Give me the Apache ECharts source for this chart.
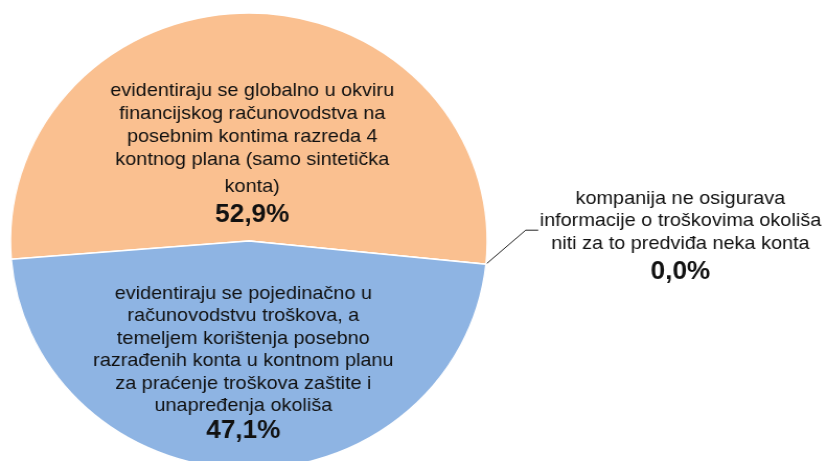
<!DOCTYPE html>
<html>
<head>
<meta charset="utf-8">
<script src="https://cdn.jsdelivr.net/npm/echarts@6/dist/echarts.min.js"></script>
<style>
  html, body { margin: 0; padding: 0; background: #ffffff; overflow: hidden; }
  #wrap { width: 827px; height: 461px; overflow: hidden; }
  /* the chart is laid out slightly narrower and stretched horizontally */
  #chart { width: 791px; height: 461px; transform: scaleX(1.0455); transform-origin: 0 0; }
</style>
</head>
<body>
<div id="wrap"><div id="chart"></div></div>
<script>
// Categories (slice order, clockwise from the left edge)
const categories = [
  'evidentiraju se globalno u okviru\nfinancijskog računovodstva na\nposebnim kontima razreda 4\nkontnog plana (samo sintetička\nkonta)',
  'kompanija ne osigurava\ninformacije o troškovima okoliša\nniti za to predviđa neka konta',
  'evidentiraju se pojedinačno u\nračunovodstvu troškova, a\ntemeljem korištenja posebno\nrazrađenih konta u kontnom planu\nza praćenje troškova zaštite i\nunapređenja okoliša'
];
// Shares in percent
const shares = [52.9, 0.0, 47.1];

const sliceColors = ['#FAC090', '#8EB4E3', '#8EB4E3'];
const FONT = '"Liberation Sans", Arial, sans-serif';
const INK = '#111111';

function pct(v) {
  return v.toFixed(1).replace('.', ',') + '%';
}
// each label: name lines, an optional style for the last name line, then the value
function richText(name, value, s) {
  const lines = name.split('\n');
  return lines.map((l, k) => '{' + (k === lines.length - 1 ? s.last : s.name) + '|' + l + '}').join('\n') +
    '\n{' + s.value + '|' + pct(value) + '}';
}

const rich = {
  a:  { fontFamily: FONT, fontSize: 19, lineHeight: 23, color: INK },
  ak: { fontFamily: FONT, fontSize: 19, lineHeight: 31, color: INK },
  av: { fontFamily: FONT, fontSize: 25, fontWeight: 'bold', lineHeight: 26, color: INK },
  b:  { fontFamily: FONT, fontSize: 19, lineHeight: 22.5, color: INK },
  bv: { fontFamily: FONT, fontSize: 25, fontWeight: 'bold', lineHeight: 28, color: INK },
  c:  { fontFamily: FONT, fontSize: 19, lineHeight: 22.5, color: INK },
  cv: { fontFamily: FONT, fontSize: 25, fontWeight: 'bold', lineHeight: 34, color: INK }
};
const labelStyles = [
  { name: 'a', last: 'ak', value: 'av' },
  { name: 'c', last: 'c', value: 'cv' },
  { name: 'b', last: 'b', value: 'bv' }
];

const pieData = categories.map((name, i) => {
  const outside = shares[i] === 0;
  return {
    name: name,
    value: shares[i],
    itemStyle: { color: sliceColors[i] },
    label: {
      show: true,
      position: outside ? 'outside' : 'inside',
      align: 'center',
      formatter: p => richText(p.name, p.value, labelStyles[i]),
      rich: rich
    },
    labelLine: {
      show: outside,
      length: 30,
      length2: 12,
      lineStyle: { color: '#222222', width: 1 }
    }
  };
});

const chart = echarts.init(document.getElementById('chart'), null, { renderer: 'canvas' });
chart.setOption({
  animation: false,
  backgroundColor: '#ffffff',
  series: [{
    type: 'pie',
    silent: true,
    center: [238, 241],
    radius: 228,
    startAngle: 184.6,
    clockwise: true,
    avoidLabelOverlap: false,
    itemStyle: { borderColor: '#ffffff', borderWidth: 1.5 },
    data: pieData,
    labelLayout: function (p) {
      if (shares[p.dataIndex] === 0 && p.labelLinePoints && p.labelLinePoints.length) {
        // leader line: up-right from the slice edge, then a short horizontal tail
        const a = p.labelLinePoints[0];
        const bend = [a[0] + 38, a[1] - 34];
        const end = [bend[0] + 12, bend[1]];
        return {
          x: end[0] + 136,
          y: bend[1] + 8,
          align: 'center',
          verticalAlign: 'middle',
          labelLinePoints: [a, bend, end]
        };
      }
      return p.dataIndex === 0 ? { dx: 2, dy: 30 } : { dx: -4, dy: 6 };
    }
  }]
});
</script>
</body>
</html>
